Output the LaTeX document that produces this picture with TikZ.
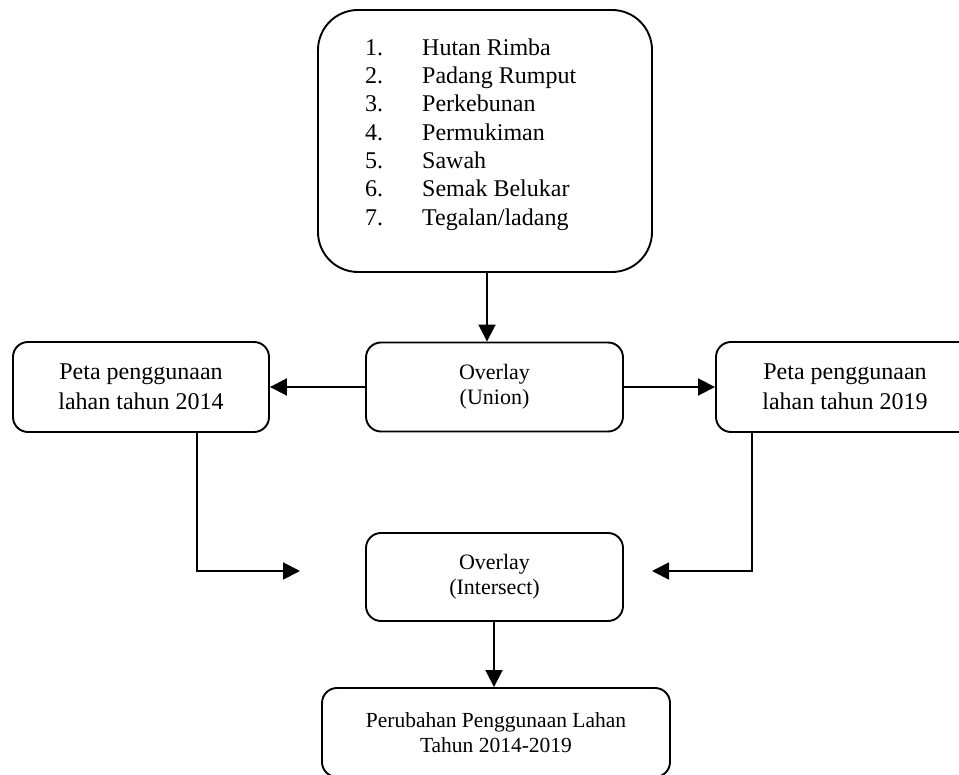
\documentclass[tikz,border=0pt]{standalone}
\usepackage{fontspec}
\setmainfont{Liberation Serif}
\usetikzlibrary{arrows.meta,positioning,calc}

\begin{document}
\begin{tikzpicture}[x=1pt,y=-1pt,
    box/.style={draw,line width=1.9pt,rounded corners=15pt,align=center,inner sep=0pt},
    arr/.style={-{Triangle[length=17pt,width=17pt]},line width=1.9pt}]
  \useasboundingbox (0,0) rectangle (959,775);

  % Daftar kelas
  \node[box,rounded corners=40pt,minimum width=334pt,minimum height=262pt] (kelas) at (485,141) {};
  \foreach \n/\t in {1/Hutan Rimba,2/Padang Rumput,3/Perkebunan,4/Permukiman,5/Sawah,6/Semak Belukar,7/{Tegalan/ladang}} {
    \node[anchor=base west,inner sep=0pt,font=\fontsize{24}{28}\selectfont] (no\n) at (365,26.7+28.33*\n) {\n.};
    \node[anchor=base west,inner sep=0pt,font=\fontsize{24}{28}\selectfont] (kls\n) at (422,26.7+28.33*\n) {\t};
  }

  % Overlay union
  \node[box,minimum width=257pt,minimum height=89pt,font=\fontsize{22}{25}\selectfont] (union) at (494.5,387) {Overlay\\(Union)};
  \node[box,minimum width=256pt,minimum height=90pt,font=\fontsize{24}{30}\selectfont] (kiri) at (141,387) {Peta penggunaan\\lahan tahun 2014};
  \node[box,minimum width=258pt,minimum height=90pt,font=\fontsize{24}{30}\selectfont] (kanan) at (845,387) {Peta penggunaan\\lahan tahun 2019};

  % Overlay intersect
  \node[box,minimum width=257pt,minimum height=88pt,font=\fontsize{22}{25}\selectfont] (inter) at (494.5,577) {Overlay\\(Intersect)};
  \node[box,minimum width=348pt,minimum height=89pt,font=\fontsize{21.5}{25}\selectfont] (hasil) at (496,732.5) {Perubahan Penggunaan Lahan\\Tahun 2014-2019};

  % Arrows
  \coordinate (ujungkiri) at (300,571);
  \coordinate (ujungkanan) at (652,571);
  \draw[arr] ([xshift=2pt]kelas.south) -- ([xshift=2pt]kelas.south |- union.north);
  \draw[arr] (union.west) -- (kiri.east);
  \draw[arr] (union.east) -- (kanan.west);
  \draw[arr] ($(kiri.south west)+(185,0)$) |- (ujungkiri);
  \draw[arr] ($(kanan.south west)+(37,0)$) |- (ujungkanan);
  \draw[arr] ([xshift=-0.5pt]inter.south) -- ([xshift=-0.5pt]inter.south |- hasil.north);
\end{tikzpicture}
\end{document}
